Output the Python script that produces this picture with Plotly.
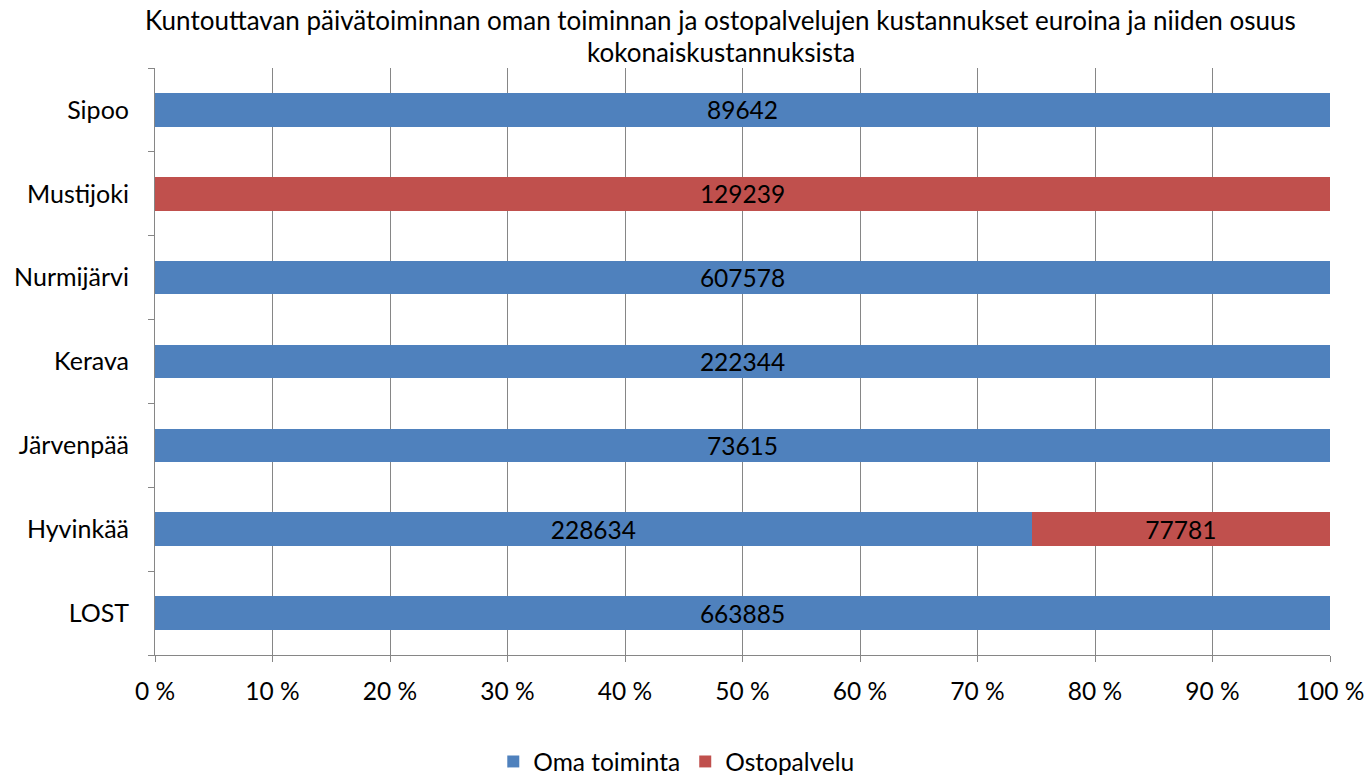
import plotly.graph_objects as go

categories = ["LOST", "Hyvinkää", "Järvenpää", "Kerava", "Nurmijärvi", "Mustijoki", "Sipoo"]
oma_toiminta = [663885, 228634, 73615, 222344, 607578, 0, 89642]
ostopalvelu = [0, 77781, 0, 0, 0, 129239, 0]
title_line1 = "Kuntouttavan päivätoiminnan oman toiminnan ja ostopalvelujen kustannukset euroina ja niiden osuus"
title_line2 = "kokonaiskustannuksista"

FONT = "Lato, 'Liberation Sans', sans-serif"
FS = 24.5

def labels(vals):
    return [str(v) if v else "" for v in vals]

fig = go.Figure()
fig.add_trace(go.Bar(
    y=categories, x=oma_toiminta, name="Oma toiminta", orientation="h",
    marker=dict(color="#4F81BD", line=dict(width=0)),
    text=labels(oma_toiminta), textposition="inside", insidetextanchor="middle",
    constraintext="none", textangle=0,
    textfont=dict(color="black", size=FS, family=FONT),
))
fig.add_trace(go.Bar(
    y=categories, x=ostopalvelu, name="Ostopalvelu", orientation="h",
    marker=dict(color="#C0504D", line=dict(width=0)),
    text=labels(ostopalvelu), textposition="inside", insidetextanchor="middle",
    constraintext="none", textangle=0,
    textfont=dict(color="black", size=FS, family=FONT),
))

fig.update_layout(
    width=1369, height=784,
    barmode="stack", barnorm="percent", bargap=0.6,
    plot_bgcolor="white", paper_bgcolor="white",
    font=dict(family=FONT, size=FS, color="black"),
    margin=dict(l=155, r=39, t=68, b=129, autoexpand=False),
    legend=dict(orientation="h", xref="container", yref="container",
                x=0.494, xanchor="center", y=0.0, yanchor="bottom",
                font=dict(size=FS), traceorder="normal"),
    xaxis=dict(range=[0, 100], dtick=10, tick0=0, ticksuffix=" %",
               showgrid=True, gridcolor="#868686", gridwidth=1,
               ticks="outside", ticklen=6, tickcolor="#868686",
               showline=True, linecolor="#868686", linewidth=1,
               zeroline=False, tickfont=dict(size=FS), automargin=False,
               ticklabelstandoff=9),
    yaxis=dict(categoryorder="array", categoryarray=categories,
               ticks="outside", ticklen=6, tickcolor="#868686", tickson="boundaries",
               showline=True, linecolor="#868686", linewidth=1,
               showgrid=False, tickfont=dict(size=25), automargin=False,
               ticklabelstandoff=20),
    annotations=[
        dict(text=title_line1, xref="paper", yref="paper", x=0.4815, y=1.0, yshift=68 - 20,
             xanchor="center", yanchor="middle", showarrow=False, font=dict(size=26)),
        dict(text=title_line2, xref="paper", yref="paper", x=0.4815, y=1.0, yshift=68 - 52,
             xanchor="center", yanchor="middle", showarrow=False, font=dict(size=26)),
    ],
)

fig.write_html("out.html", config={"displayModeBar": False},
               post_script="document.body.style.margin='0';")
